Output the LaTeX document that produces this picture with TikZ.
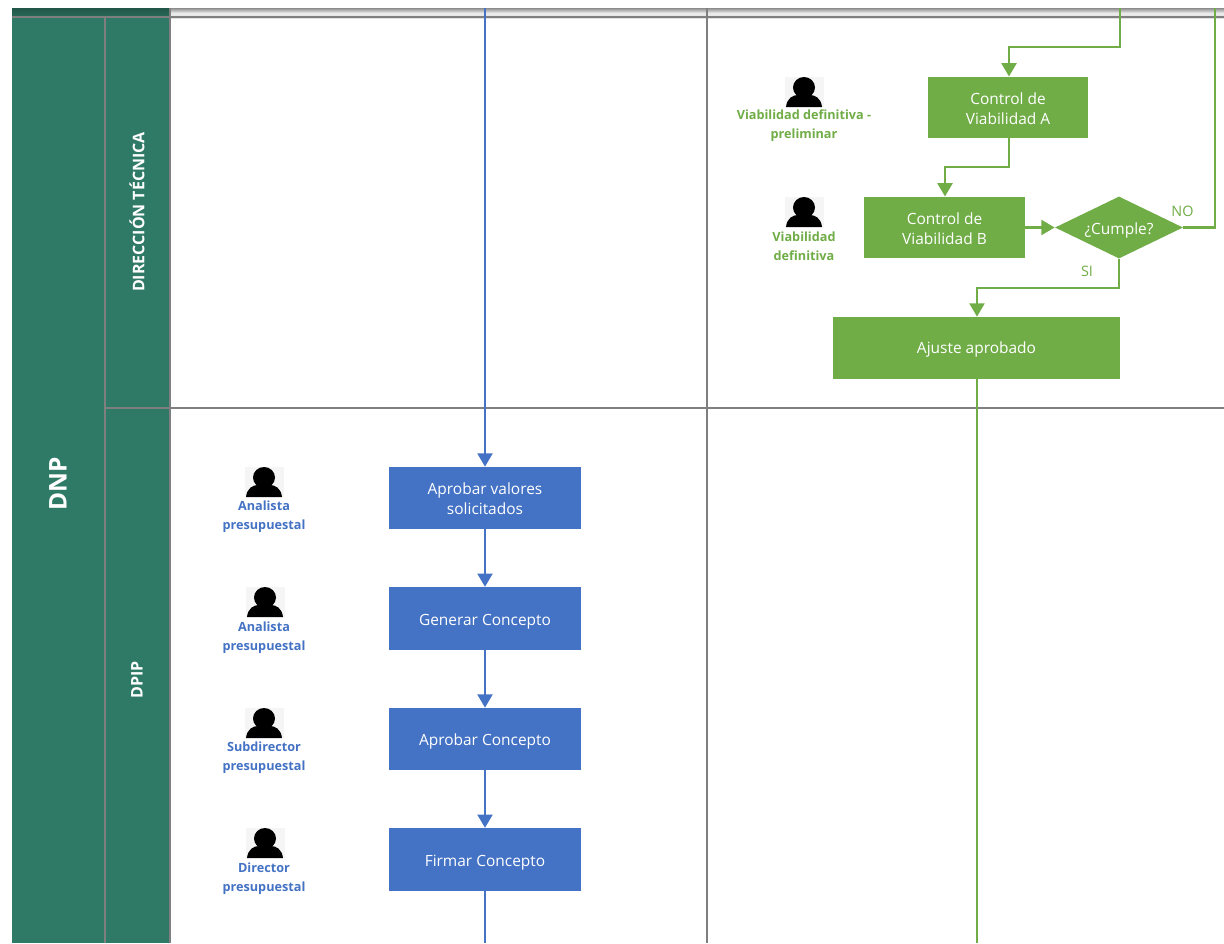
\documentclass[tikz,border=0pt]{standalone}
\usepackage{fontspec}
\setmainfont{Open Sans}
\usetikzlibrary{arrows.meta,shapes.geometric}
\definecolor{gflow}{HTML}{70AD47}
\definecolor{bflow}{HTML}{4472C4}
\definecolor{lane}{HTML}{2F7A66}
\definecolor{laneline}{HTML}{7F7F7F}
\newcommand\lowered[1]{\raisebox{-1.9pt}[\height][\depth]{\begin{tabular}{@{}c@{}}#1\end{tabular}}}
\tikzset{
  flowbox/.style={rectangle,draw=none,text=white,align=center,font=\fontsize{11.6pt}{15pt}\selectfont,inner sep=0pt},
  gbox/.style={flowbox,fill=gflow},
  bbox/.style={flowbox,fill=bflow},
  glink/.style={draw=gflow,line width=2.2pt,-{Triangle[length=10pt,width=11pt]}},
  blink/.style={draw=bflow,line width=2.2pt,-{Triangle[length=10pt,width=11pt]}},
  gline/.style={draw=gflow,line width=2.2pt},
  bline/.style={draw=bflow,line width=2.2pt},
  who/.style={align=center,font=\fontsize{9.5pt}{14pt}\selectfont\bfseries,inner sep=0pt},
  lanetext/.style={text=white,rotate=90,inner sep=0pt,font=\fontsize{12pt}{15pt}\selectfont\bfseries},
  sep/.style={draw=laneline,line width=1.1pt},
  person/.pic={
    \fill[black!4] (-19.5,0) rectangle (19.5,30);
    \fill[black] (0,10.5) ellipse [x radius=11,y radius=10.5];
    \fill[black] (-18,30) .. controls (-17,21) and (-11,18) .. (-6,18) -- (6,18) .. controls (11,18) and (17,21) .. (18,30) -- cycle;
  }
}
\begin{document}
\begin{tikzpicture}[x=0.75pt,y=-0.75pt]
\useasboundingbox (0,0) rectangle (1224,943);
\fill[white] (0,0) rectangle (1224,943);
% lanes
\fill[lane] (12,18) rectangle (170,943);
\shade[top color=black!45,bottom color=black!12,middle color=black!8] (170,8) rectangle (1224,18);
\shade[top color=lane!70!black,bottom color=lane!85!black] (12,8) rectangle (170,16);
\draw[sep] (12,17) -- (1224,17);
\draw[sep] (105,17) -- (105,943);
\draw[sep] (170,8) -- (170,943);
\draw[sep] (105,408) -- (1224,408);
\draw[sep] (707,8) -- (707,943);
% lane titles
\node[lanetext,font=\fontsize{18.3pt}{22pt}\selectfont\bfseries] (dnp) at (58,484) {DNP};
\node[lanetext] (dt) at (137,212) {DIRECCIÓN TÉCNICA};
\node[lanetext] (dpip) at (137,680) {DPIP};
% green flow
\node[gbox,minimum width=120pt,minimum height=46pt] (ca) at (1008,107.5) {\lowered{Control de\\Viabilidad A}};
\node[gbox,minimum width=120.5pt,minimum height=46pt] (cb) at (944.5,227.5) {\lowered{Control de\\Viabilidad B}};
\node[diamond,aspect=2.06,fill=gflow,text=white,inner sep=0pt,minimum width=96pt,minimum height=46.5pt,font=\fontsize{11.6pt}{15pt}\selectfont] (cum) at (1119,227.5) {\lowered{¿Cumple?}};
\node[gbox,minimum width=215pt,minimum height=46.5pt] (aj) at (976.5,348) {\raisebox{-0.8pt}[\height][\depth]{Ajuste aprobado}};
\coordinate (gtop) at (1120,8);
\coordinate (ntop) at (1215,8);
\coordinate (gbot) at (977,943);
\draw[glink] (gtop) |- (1009,47) -- (ca.north -| 1009,0);
\draw[glink] (ca.south -| 1009,0) |- (945,167) -- (cb.north -| 945,0);
\draw[glink] (cb.east) -- (cum.west);
\draw[gline] (cum.east) -| (ntop);
\draw[glink] (cum.south) |- (977,288) -- (aj.north -| 977,0);
\draw[gline] (aj.south -| gbot) -- (gbot);
\node[text=gflow,inner sep=0pt,font=\fontsize{10.8pt}{13pt}\selectfont] (no) at (1182.5,211) {NO};
\node[text=gflow,inner sep=0pt,font=\fontsize{10.8pt}{13pt}\selectfont] (si) at (1087,271) {SI};
% blue flow
\node[bbox,minimum width=144pt,minimum height=46.5pt] (b1) at (485,498) {\lowered{Aprobar valores\\solicitados}};
\node[bbox,minimum width=144pt,minimum height=47pt] (b2) at (485,618.5) {\lowered{Generar Concepto}};
\node[bbox,minimum width=144pt,minimum height=46.5pt] (b3) at (485,739) {\lowered{Aprobar Concepto}};
\node[bbox,minimum width=144pt,minimum height=47pt] (b4) at (485,859.5) {\lowered{Firmar Concepto}};
\coordinate (btop) at (485,8);
\coordinate (bbot) at (485,943);
\draw[blink] (btop) -- (b1.north);
\draw[blink] (b1) -- (b2);
\draw[blink] (b2) -- (b3);
\draw[blink] (b3) -- (b4);
\draw[bline] (b4) -- (bbot);
% people
\pic at (804,77) {person};
\pic at (804,197) {person};
\pic at (264,467) {person};
\pic at (265,587) {person};
\pic at (264,708) {person};
\pic at (265,828) {person};
\node[who,text=gflow] (w1) at (804,126) {Viabilidad definitiva -\\preliminar};
\node[who,text=gflow] (w2) at (804,246) {Viabilidad\\definitiva};
\node[who,text=bflow] (w3) at (264,517) {Analista\\presupuestal};
\node[who,text=bflow] (w4) at (264,638) {Analista\\presupuestal};
\node[who,text=bflow] (w5) at (264,758) {Subdirector\\presupuestal};
\node[who,text=bflow] (w6) at (264,879) {Director\\presupuestal};
\end{tikzpicture}
\end{document}
